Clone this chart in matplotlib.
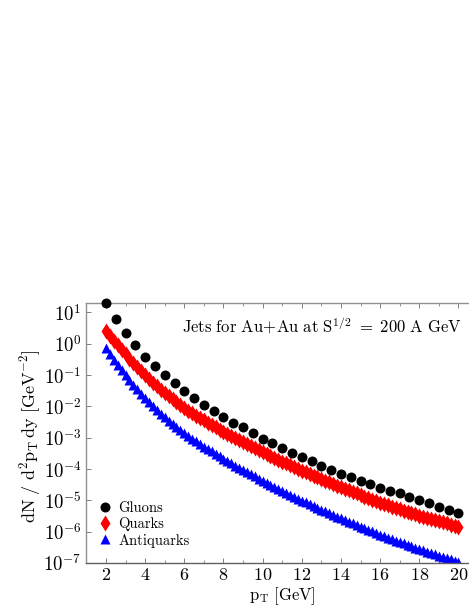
import numpy as np
import matplotlib
matplotlib.use("Agg")
import matplotlib.pyplot as plt
from matplotlib.ticker import MultipleLocator, LogLocator, FixedLocator, NullFormatter

plt.rcParams['font.family'] = 'cmr10'
plt.rcParams['mathtext.fontset'] = 'cm'
plt.rcParams['axes.formatter.use_mathtext'] = True

# gluons, every 0.5 GeV
pt_gluons = [2.0, 2.5, 3.0, 3.5, 4.0, 4.5, 5.0, 5.5, 6.0, 6.5, 7.0, 7.5, 8.0, 8.5,
             9.0, 9.5, 10.0, 10.5, 11.0, 11.5, 12.0, 12.5, 13.0, 13.5, 14.0, 14.5,
             15.0, 15.5, 16.0, 16.5, 17.0, 17.5, 18.0, 18.5, 19.0, 19.5, 20.0]
gluons = [20.0, 6.1, 2.2, 0.90, 0.39, 0.19, 0.099, 0.055, 0.031, 0.0187, 0.0112,
          0.0070, 0.0046, 0.0030, 0.00216, 0.00139, 9.4e-4, 6.65e-4, 4.6e-4,
          3.35e-4, 2.38e-4, 1.77e-4, 1.29e-4, 9.4e-5, 7.1e-5, 5.5e-5, 4.3e-5,
          3.35e-5, 2.55e-5, 2.04e-5, 1.68e-5, 1.31e-5, 1.03e-5, 8.1e-6, 6.3e-6,
          5.1e-6, 4.05e-6]

# quarks and antiquarks, every 0.2 GeV
pt_fine = [2.0, 2.2, 2.4, 2.6, 2.8, 3.0, 3.2, 3.4, 3.6, 3.8, 4.0, 4.2, 4.4, 4.6, 4.8,
           5.0, 5.2, 5.4, 5.6, 5.8, 6.0, 6.2, 6.4, 6.6, 6.8, 7.0, 7.2, 7.4, 7.6, 7.8,
           8.0, 8.2, 8.4, 8.6, 8.8, 9.0, 9.2, 9.4, 9.6, 9.8, 10.0, 10.2, 10.4, 10.6,
           10.8, 11.0, 11.2, 11.4, 11.6, 11.8, 12.0, 12.2, 12.4, 12.6, 12.8, 13.0,
           13.2, 13.4, 13.6, 13.8, 14.0, 14.2, 14.4, 14.6, 14.8, 15.0, 15.2, 15.4,
           15.6, 15.8, 16.0, 16.2, 16.4, 16.6, 16.8, 17.0, 17.2, 17.4, 17.6, 17.8,
           18.0, 18.2, 18.4, 18.6, 18.8, 19.0, 19.2, 19.4, 19.6, 19.8, 20.0]
quarks = [2.57, 1.78, 1.26, 0.891, 0.646, 0.468, 0.335, 0.243, 0.178, 0.132, 0.100,
          0.0750, 0.0569, 0.0437, 0.0335, 0.0263, 0.0209, 0.0168, 0.0135, 0.0110,
          0.00891, 0.00733, 0.00610, 0.00507, 0.00422, 0.00355, 0.00299, 0.00254,
          0.00215, 0.00182, 0.00155, 0.00133, 0.00114, 9.82e-4, 8.43e-4, 7.24e-4,
          6.25e-4, 5.40e-4, 4.66e-4, 4.02e-4, 3.47e-4, 3.02e-4, 2.63e-4, 2.29e-4,
          2.00e-4, 1.74e-4, 1.52e-4, 1.33e-4, 1.16e-4, 1.02e-4, 8.91e-5, 7.87e-5,
          6.95e-5, 6.14e-5, 5.42e-5, 4.79e-5, 4.25e-5, 3.77e-5, 3.34e-5, 2.96e-5,
          2.63e-5, 2.34e-5, 2.09e-5, 1.86e-5, 1.66e-5, 1.48e-5, 1.32e-5, 1.19e-5,
          1.06e-5, 9.51e-6, 8.51e-6, 7.69e-6, 6.95e-6, 6.28e-6, 5.68e-6, 5.13e-6,
          4.68e-6, 4.27e-6, 3.89e-6, 3.55e-6, 3.24e-6, 2.98e-6, 2.74e-6, 2.52e-6,
          2.32e-6, 2.14e-6, 1.98e-6, 1.83e-6, 1.69e-6, 1.56e-6, 1.45e-6]
antiquarks = [0.708, 0.462, 0.309, 0.209, 0.143, 0.100, 0.0698, 0.0494, 0.0352,
              0.0253, 0.0184, 0.0136, 0.0102, 0.00773, 0.00586, 0.00450, 0.00352,
              0.00279, 0.00221, 0.00177, 0.00142, 0.00115, 9.40e-4, 7.71e-4, 6.34e-4,
              5.24e-4, 4.36e-4, 3.63e-4, 3.03e-4, 2.54e-4, 2.12e-4, 1.79e-4, 1.52e-4,
              1.29e-4, 1.09e-4, 9.23e-5, 7.89e-5, 6.75e-5, 5.78e-5, 4.95e-5, 4.26e-5,
              3.66e-5, 3.16e-5, 2.72e-5, 2.34e-5, 2.02e-5, 1.75e-5, 1.51e-5, 1.31e-5,
              1.13e-5, 9.82e-6, 8.59e-6, 7.52e-6, 6.59e-6, 5.78e-6, 5.07e-6, 4.47e-6,
              3.94e-6, 3.47e-6, 3.05e-6, 2.69e-6, 2.38e-6, 2.11e-6, 1.87e-6, 1.65e-6,
              1.46e-6, 1.30e-6, 1.15e-6, 1.03e-6, 9.12e-7, 8.09e-7, 7.24e-7, 6.49e-7,
              5.81e-7, 5.21e-7, 4.68e-7, 4.22e-7, 3.80e-7, 3.43e-7, 3.09e-7, 2.79e-7,
              2.53e-7, 2.30e-7, 2.08e-7, 1.89e-7, 1.72e-7, 1.57e-7, 1.44e-7, 1.31e-7,
              1.20e-7, 1.10e-7]

decades = [-7, -6, -5, -4, -3, -2, -1, 0, 1]

fig = plt.figure(figsize=(4.69, 6.07), dpi=100)
# axes run past the right edge of the figure, like the cropped original
ax = fig.add_axes([86.4 / 469, 44 / 607, 391.6 / 469, 260 / 607])

ax.plot(pt_gluons, gluons, 'o', color='black', ms=7.2, mec='none',
        label='Gluons', clip_on=False, zorder=3)
ax.plot(pt_fine, quarks, 'd', color='red', ms=8.5, mec='none', label='Quarks', zorder=2)
ax.plot(pt_fine, antiquarks, '^', color='blue', ms=7, mec='none',
        label='Antiquarks', zorder=2)

ax.set_yscale('log')
ax.set_xlim(1, 21)
ax.set_ylim(1e-7, 20)

ax.xaxis.set_major_locator(MultipleLocator(2))
ax.xaxis.set_minor_locator(MultipleLocator(1))
ax.yaxis.set_major_locator(FixedLocator([10.0 ** d for d in decades]))
ax.yaxis.set_major_formatter(plt.FuncFormatter(lambda v, p: r'$10^{%d}$' % round(np.log10(v))))
ax.yaxis.set_minor_locator(LogLocator(base=10, subs=np.arange(2, 10)))
ax.yaxis.set_minor_formatter(NullFormatter())
ax.tick_params(which='both', direction='in', top=True, right=True, labelsize=13.5,
               color='#808080')
ax.tick_params(which='major', length=3.5, width=0.7)
ax.tick_params(which='minor', length=2, width=0.6)
ax.tick_params(axis='x', pad=3, labelsize=13)
for s in ax.spines.values():
    s.set_color('#909090')
    s.set_linewidth(1.0)
ax.spines['bottom'].set_color('#606060')

# x label placed by hand so that it stays inside the figure
fig.text(282 / 469, 1 - 596 / 607, r'$\mathrm{p_T\ [GeV]}$', fontsize=12,
         ha='center', va='center')
ax.set_ylabel(r'$\mathrm{dN\ /\ d^2p_T\,dy\ [GeV^{-2}]}$', fontsize=13)
ax.yaxis.set_label_coords(-0.112, 0.49)

ax.text(461.5 / 469, 1 - 326 / 607,
        r'$\mathrm{Jets\ for\ Au\!+\!Au\ at\ S^{1/2}\ =\ 200\ A\ GeV}$',
        transform=fig.transFigure, ha='right', va='center', fontsize=12)

ax.legend(loc='lower left', frameon=False, fontsize=10.5, handletextpad=0.3,
          borderaxespad=0.3, labelspacing=0.15, handlelength=1.2, markerscale=1.0,
          bbox_to_anchor=(0.0, 0.02))

fig.savefig('out.png', dpi=100)
